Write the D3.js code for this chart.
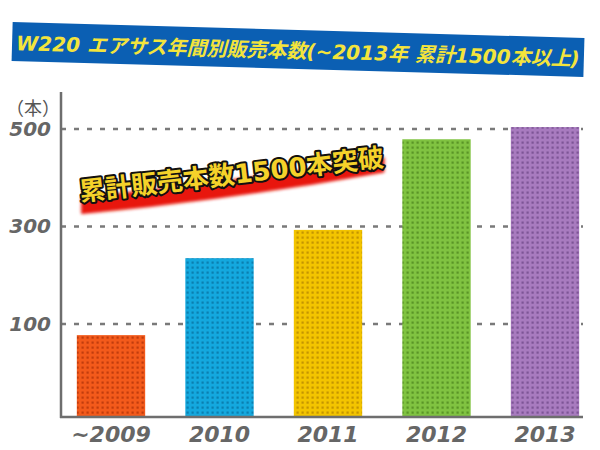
<!DOCTYPE html>
<html>
<head>
<meta charset="utf-8">
<script src="https://cdn.jsdelivr.net/npm/d3@7"></script>
<style>
body { margin: 0; background: #fff; }
text { font-family: Verdana, "DejaVu Sans", "Noto Sans CJK JP", sans-serif; }
</style>
</head>
<body>
<script>
// data
var years = ["~2009", "2010", "2011", "2012", "2013"];
var sales = [77, 235, 293, 479, 504];
var ticks = [100, 300, 500];
var colors = ["#f35a1b", "#14a8de", "#f3c400", "#80c341", "#a87bbf"];
var dots = ["#c23c0c", "#0a7fb0", "#c49500", "#5a9526", "#7d5496"];

var W = 600, H = 450;
var svg = d3.select("body").append("svg")
	.attr("width", W)
	.attr("height", H);

var defs = svg.append("defs");
colors.forEach(function(c, i) {
	var p = defs.append("pattern")
		.attr("id", "dots" + i)
		.attr("patternUnits", "userSpaceOnUse")
		.attr("width", 5)
		.attr("height", 5);
	p.append("rect").attr("width", 5).attr("height", 5).attr("fill", c);
	p.append("rect").attr("x", 1.5).attr("y", 1.5).attr("width", 2.2).attr("height", 2.2)
		.attr("fill", dots[i]);
});
var blur = defs.append("filter").attr("id", "blur")
	.attr("x", "-10%").attr("y", "-50%").attr("width", "120%").attr("height", "200%");
blur.append("feGaussianBlur").attr("stdDeviation", 1.5);

// scales (the axis base is not zero in the original)
var x = d3.scaleBand()
	.domain(years)
	.range([56.75, 599.25])
	.paddingInner(0.37)
	.paddingOuter(0.185);
var y = d3.scaleLinear()
	.domain([-91, 576])
	.range([417, 92]);

var axisL = 61, axisR = 583;

// dashed grid lines
svg.selectAll(".grid")
	.data(ticks)
	.enter()
	.append("line")
	.attr("x1", axisL)
	.attr("x2", axisR)
	.attr("y1", function(d) { return y(d); })
	.attr("y2", function(d) { return y(d); })
	.attr("stroke", "#7a7a7a")
	.attr("stroke-width", 2.5)
	.attr("stroke-dasharray", "5,8");

// bars
svg.selectAll(".bar")
	.data(sales)
	.enter()
	.append("rect")
	.attr("x", function(d, i) { return x(years[i]); })
	.attr("y", function(d) { return y(d); })
	.attr("width", x.bandwidth())
	.attr("height", function(d) { return y.range()[0] - y(d); })
	.attr("fill", function(d, i) { return "url(#dots" + i + ")"; });

// axis lines
svg.append("line")
	.attr("x1", axisL).attr("x2", axisL)
	.attr("y1", 92).attr("y2", 418)
	.attr("stroke", "#6e6e6e").attr("stroke-width", 2.5);
svg.append("line")
	.attr("x1", axisL - 1).attr("x2", axisR)
	.attr("y1", 417).attr("y2", 417)
	.attr("stroke", "#6e6e6e").attr("stroke-width", 2.5);

// y tick labels
svg.selectAll(".ytick")
	.data(ticks)
	.enter()
	.append("text")
	.attr("x", 51)
	.attr("y", function(d) { return y(d) + 7; })
	.attr("text-anchor", "end")
	.attr("font-size", 20)
	.attr("font-style", "italic")
	.attr("font-weight", "bold")
	.attr("fill", "#666")
	.text(function(d) { return d; });

svg.append("text")
	.attr("x", 33).attr("y", 115)
	.attr("text-anchor", "middle")
	.attr("font-size", 18)
	.attr("fill", "#555")
	.attr("font-family", "Noto Sans CJK JP")
	.text("（本）");

// x labels
svg.selectAll(".xtick")
	.data(years)
	.enter()
	.append("text")
	.attr("x", function(d) { return x(d) + x.bandwidth() / 2; })
	.attr("y", 442)
	.attr("text-anchor", "middle")
	.attr("font-size", 22)
	.attr("font-style", "italic")
	.attr("font-weight", "bold")
	.attr("fill", "#666")
	.text(function(d) { return d; });

// title banner
var banner = svg.append("g").attr("transform", "rotate(1.6, 298, 50)");
banner.append("rect")
	.attr("x", 12).attr("y", 30)
	.attr("width", 572).attr("height", 39)
	.attr("fill", "#0b5fb3");
banner.append("text")
	.attr("x", 298).attr("y", 58)
	.attr("text-anchor", "middle")
	.attr("font-size", 20)
	.attr("font-weight", "bold")
	.attr("font-style", "italic")
	.attr("fill", "#f3e43c")
	.text("W220 エアサス年間別販売本数(~2013年 累計1500本以上)");

// annotation
var note = svg.append("g").attr("transform", "rotate(-6.5, 230, 178)");
note.append("path")
	.attr("d", "M 78 197 Q 230 200 384 190 L 386 175 Q 230 182 80 180 Z")
	.attr("fill", "#e8140c")
	.attr("filter", "url(#blur)");
note.append("text")
	.attr("x", 232).attr("y", 184)
	.attr("text-anchor", "middle")
	.attr("font-size", 26)
	.attr("font-weight", "bold")
	.attr("fill", "#f5d22a")
	.attr("stroke", "#111")
	.attr("stroke-width", 4)
	.attr("paint-order", "stroke")
	.attr("stroke-linejoin", "round")
	.text("累計販売本数1500本突破");
</script>
</body>
</html>
